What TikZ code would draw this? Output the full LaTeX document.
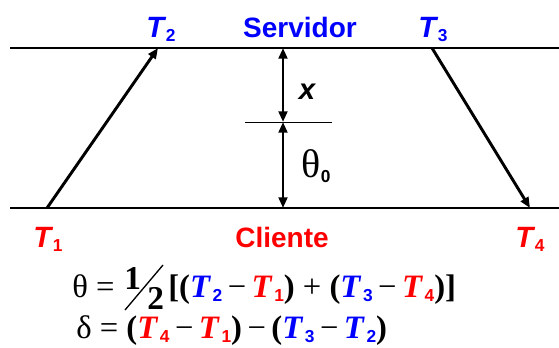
\documentclass[tikz,border=0pt]{standalone}
\usepackage{fontspec}
\setmainfont{Liberation Serif}
\setsansfont{Liberation Sans}
\usepackage{xcolor}
\usetikzlibrary{arrows.meta,positioning}
\definecolor{srvblue}{HTML}{0000FF}
\definecolor{clired}{HTML}{FF0000}
\newcommand{\tsub}[1]{\raisebox{-0.3ex}{\fontsize{13}{13}\selectfont\sffamily\bfseries\upshape #1}}
\newcommand{\tlab}[1]{\textit{T}\kern0.05em\tsub{#1}}
\newcommand{\fT}[2]{\textcolor{#1}{\textbf{\textit{T}}\kern0.05em\tsub{#2}}}
\newcommand{\mns}{\,−\,}

\begin{document}
\begin{tikzpicture}[
 x=0.75pt,y=-0.75pt,
 tline/.style={line width=1.5pt},
 msg/.style={-{Triangle[length=8pt,width=6.5pt]},line width=2.2pt},
 dist/.style={{Triangle[length=8pt,width=6.5pt]}-{Triangle[length=8pt,width=6.5pt]},line width=2.2pt},
 lab/.style={font=\fontsize{21}{24}\selectfont\sffamily\bfseries,inner sep=0pt,anchor=base},
 tname/.style={font=\fontsize{22}{24}\selectfont\sffamily\bfseries\itshape,inner sep=0pt,anchor=base},
 fml/.style={font=\fontsize{24.5}{28}\selectfont,inner sep=0pt,anchor=base west}
]
\useasboundingbox (0,0) rectangle (559,347);

% time lines
\coordinate (srvL) at (10,48);
\coordinate (srvR) at (559,48);
\coordinate (cliL) at (10,208);
\coordinate (cliR) at (559,208);
\draw[tline] (srvL) -- (srvR);
\draw[tline] (cliL) -- (cliR);

\coordinate (t1) at (47,208);
\coordinate (t2) at (158,48);
\coordinate (t3) at (432,48);
\coordinate (t4) at (530,208);
\draw[msg] (t1) -- (t2);
\draw[msg] (t3) -- (t4);

% offset and delay
\coordinate (mtop) at (283,48);
\coordinate (mmid) at (283,122);
\coordinate (mbot) at (283,208);
\coordinate (tickL) at (245,122);
\coordinate (tickR) at (332,122);
\draw[line width=0.6pt] (tickL) -- (tickR);
\draw[dist] (mtop) -- (mmid);
\draw[dist] (mmid) -- (mbot);
\node[tname] (xlab) at (307,99) {x};
\node[inner sep=0pt,font=\fontsize{30}{30}\selectfont] (theta0) at (316,166) {θ\tsub{0}};

\node[lab,text=srvblue] (srv) at (300,37) {Servidor};
\node[lab,text=clired] (cli) at (282,247) {Cliente};
\node[tname,text=srvblue] (T2) at (161,37) {\tlab{2}};
\node[tname,text=srvblue] (T3) at (433,37) {\tlab{3}};
\node[tname,text=clired] (T1) at (48,247) {\tlab{1}};
\node[tname,text=clired] (T4) at (530,247) {\tlab{4}};

% formulas
\node[fml] (thq) at (72,297) {θ =};
\node[fml,font=\fontsize{25}{28}\selectfont\bfseries] (one) at (124,289) {1};
\node[fml,font=\fontsize{25}{28}\selectfont\bfseries] (two) at (147,309) {2};
\coordinate (slA) at (125,310);
\coordinate (slB) at (163,265);
\draw[line width=1pt] (slA) -- (slB);
\node[fml] (thr) at (168,297) {\textbf{[(}\fT{srvblue}{2}\mns\fT{clired}{1}\textbf{)} + \textbf{(}\fT{srvblue}{3}\mns\fT{clired}{4}\textbf{)]}};
\node[fml] (dl) at (76,338) {δ = \textbf{(}\fT{clired}{4}\mns\fT{clired}{1}\textbf{)}\mns\textbf{(}\fT{srvblue}{3}\mns\fT{srvblue}{2}\textbf{)}};
\end{tikzpicture}
\end{document}
